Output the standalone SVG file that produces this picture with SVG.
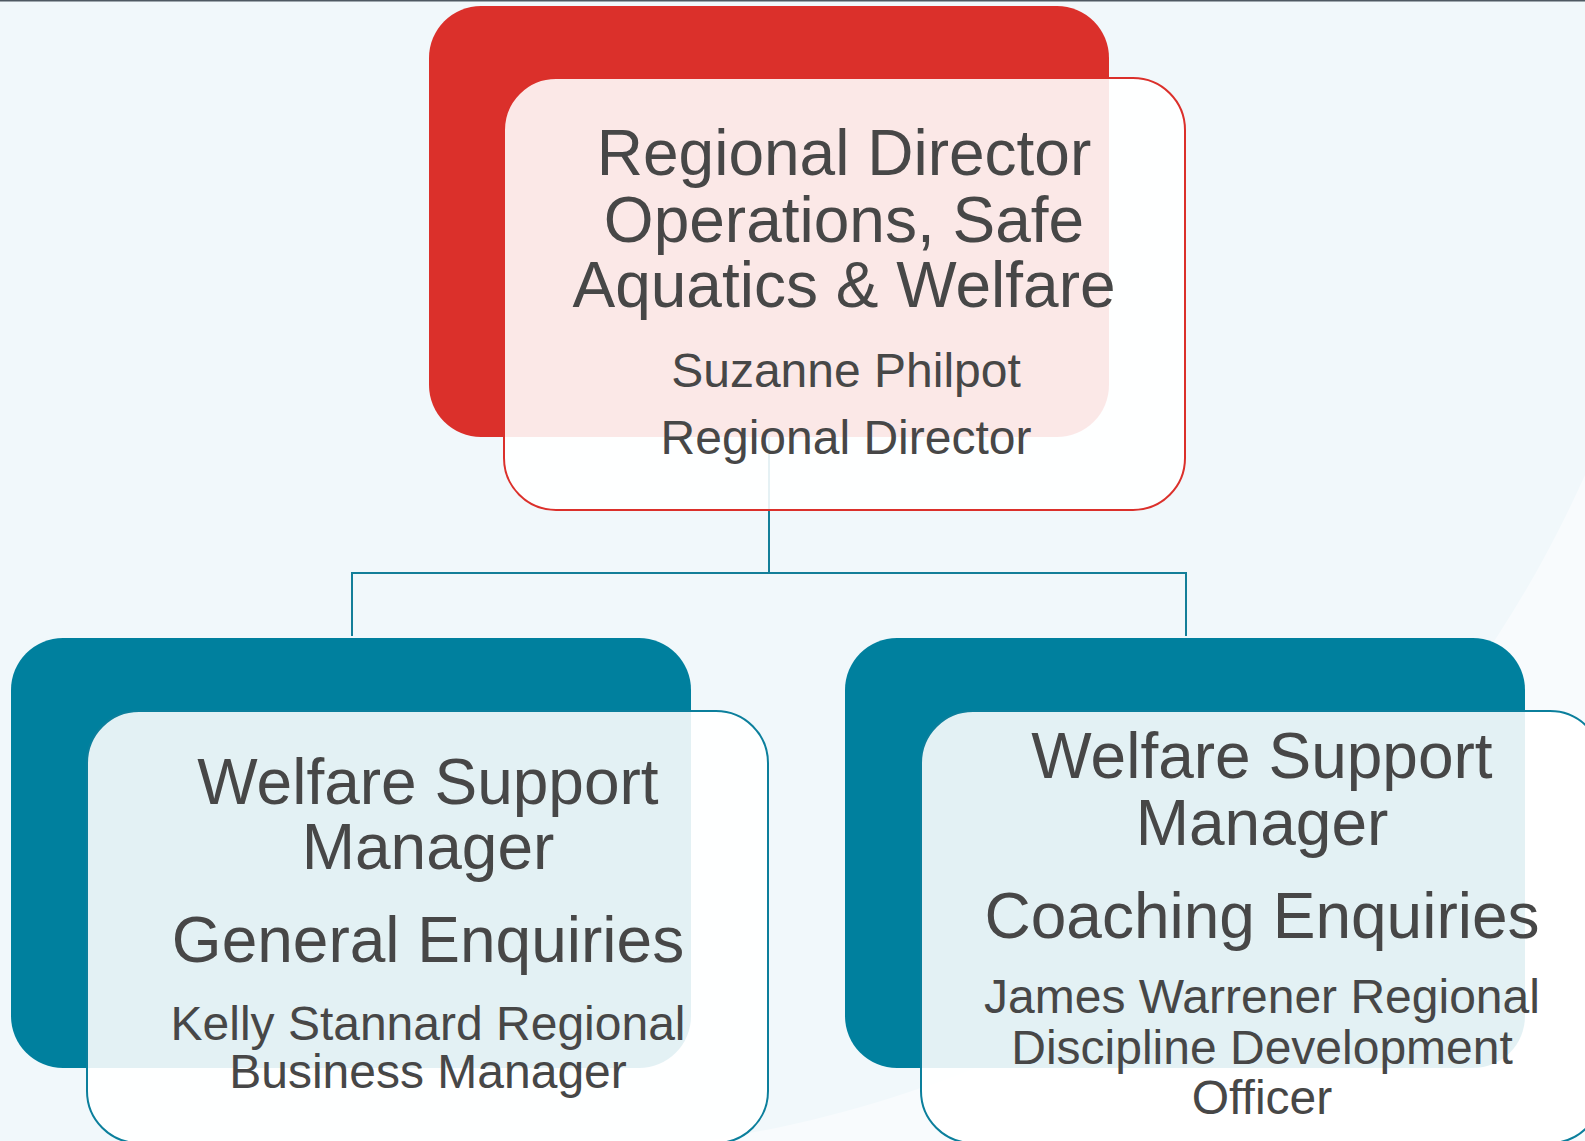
<svg xmlns="http://www.w3.org/2000/svg" width="1585" height="1141" viewBox="0 0 1585 1141">
<style>
.bg{fill:#f1f8fb}
.hl{fill:#f8fbfd}
.conn{fill:none;stroke:#137f99;stroke-width:2}
.backR{fill:#db302b}
.backT{fill:#00809e}
.frontR{fill:#ffffff;fill-opacity:0.89;stroke:#db302b;stroke-width:2}
.frontT{fill:#ffffff;fill-opacity:0.89;stroke:#0b7f9c;stroke-width:2}
text{font-family:"Liberation Sans",Arial,sans-serif;fill:#474747;text-anchor:middle}
.big{font-size:64px}
.small{font-size:48px}
</style>
<rect class="bg" x="0" y="0" width="1585" height="1141"/>
<path class="hl" d="M 700 1141 C 1100 1085 1440 830 1600 440 L 1600 1141 Z"/>
<line x1="0" y1="0.75" x2="1585" y2="0.75" stroke="#4f5962" stroke-width="1.5"/>
<g id="connectors">
<path class="conn" d="M 769 437 L 769 573 M 352 573 L 1186 573 M 352 572 L 352 636 M 1186 572 L 1186 636"/>
</g>
<g id="node-director">
<rect class="backR" x="429" y="6" width="680" height="431" rx="52" ry="52"/>
<rect class="frontR" x="504" y="78" width="681" height="432" rx="52" ry="52"/>
<text class="big" x="844" y="175">Regional Director</text>
<text class="big" x="844" y="242">Operations, Safe</text>
<text class="big" x="844" y="307">Aquatics &amp; Welfare</text>
<text class="small" x="846" y="387">Suzanne Philpot</text>
<text class="small" x="846" y="454">Regional Director</text>
</g>
<g id="node-general">
<rect class="backT" x="11" y="638" width="680" height="430" rx="52" ry="52"/>
<rect class="frontT" x="87" y="711" width="681" height="432" rx="52" ry="52"/>
<text class="big" x="428" y="804">Welfare Support</text>
<text class="big" x="428" y="869">Manager</text>
<text class="big" x="428" y="962">General Enquiries</text>
<text class="small" x="428" y="1040">Kelly Stannard Regional</text>
<text class="small" x="428" y="1088">Business Manager</text>
</g>
<g id="node-coaching">
<rect class="backT" x="845" y="638" width="680" height="430" rx="52" ry="52"/>
<rect class="frontT" x="921" y="711" width="681" height="432" rx="52" ry="52"/>
<text class="big" x="1262" y="778">Welfare Support</text>
<text class="big" x="1262" y="845">Manager</text>
<text class="big" x="1262" y="938">Coaching Enquiries</text>
<text class="small" x="1262" y="1013">James Warrener Regional</text>
<text class="small" x="1262" y="1064">Discipline Development</text>
<text class="small" x="1262" y="1114">Officer</text>
</g>
</svg>
